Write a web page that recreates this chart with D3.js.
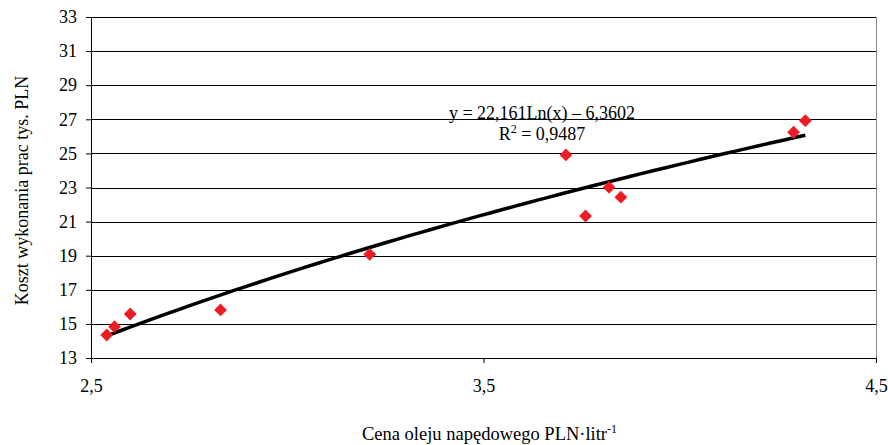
<!DOCTYPE html>
<html>
<head>
<meta charset="utf-8">
<script src="https://cdn.jsdelivr.net/npm/d3@7"></script>
<style>
  body { margin: 0; background: #fff; }
  text { font-family: "Liberation Serif", "Times New Roman", serif; fill: #000; }
</style>
</head>
<body>
<div id="chart"></div>
<script>
// diesel price (PLN/l) and cost of work (thousand PLN)
const priceX = [2.54, 2.56, 2.60, 2.83, 3.21, 3.71, 3.76, 3.82, 3.85, 4.29, 4.32];
const costY = [14.35, 14.84, 15.58, 15.82, 19.08, 24.91, 21.33, 23.01, 22.43, 26.24, 26.92];
const xTicks = [2.5, 3.5, 4.5];
const yTicks = [13, 15, 17, 19, 21, 23, 25, 27, 29, 31, 33];
// trend: y = a*ln(x) + b
const trendA = 22.161, trendB = -6.3602;

let width = 888, height = 445;
let margin = { top: 17, right: 12, bottom: 87, left: 91 };
let w = width - margin.left - margin.right, h = height - margin.top - margin.bottom;

let svg = d3.select("#chart").append("svg")
    .attr("width", width).attr("height", height);
let g = svg.append("g").attr("transform", `translate(${margin.left},${margin.top})`);

let x = d3.scaleLinear().domain([2.5, 4.5]).range([0, w]);
let y = d3.scaleLinear().domain([13, 33]).range([h, 0]);
let fmt = d => String(d).replace(".", ",");

// horizontal grid
g.selectAll(".grid").data(yTicks).enter().append("line")
    .attr("x1", 0).attr("x2", w)
    .attr("y1", d => Math.round(y(d)) + 0.5).attr("y2", d => Math.round(y(d)) + 0.5)
    .attr("stroke", "#000").attr("stroke-width", 1);
// right border
g.append("line").attr("x1", w + 0.5).attr("x2", w + 0.5).attr("y1", 0).attr("y2", h)
    .attr("stroke", "#888");

// axes
let yAxis = g.append("g").call(d3.axisLeft(y).tickValues(yTicks).tickSize(5).tickPadding(9).tickFormat(d => d));
let xAxis = g.append("g").attr("transform", `translate(0,${h})`)
    .call(d3.axisBottom(x).tickValues(xTicks).tickSize(5).tickPadding(16).tickFormat(fmt));
[yAxis, xAxis].forEach(a => {
    a.selectAll("text").style("font-family", "Liberation Serif").style("font-size", "18px");
    a.select(".domain").attr("stroke", "#000");
    a.selectAll(".tick line").attr("stroke", "#000");
});

// trend line
let xs = d3.range(0, 61).map(i => d3.min(priceX) + i * (d3.max(priceX) - d3.min(priceX)) / 60);
g.append("path")
    .datum(xs)
    .attr("fill", "none").attr("stroke", "#000").attr("stroke-width", 3.5)
    .attr("d", d3.line().x(d => x(d)).y(d => y(trendA * Math.log(d) + trendB)));

// points
let diamond = d3.symbol().type(d3.symbolSquare).size(82);
g.selectAll(".pt").data(priceX).enter().append("path")
    .attr("d", diamond)
    .attr("transform", (d, i) => `translate(${x(d)},${y(costY[i])}) rotate(45)`)
    .attr("fill", "#ec1c24");

// equation
g.append("text").attr("x", 451).attr("y", 102).attr("text-anchor", "middle")
    .style("font-size", "18px").text("y = 22,161Ln(x) – 6,3602");
let r2 = g.append("text").attr("x", 451).attr("y", 123).attr("text-anchor", "middle")
    .style("font-size", "18px");
r2.append("tspan").text("R");
r2.append("tspan").attr("dy", -7).style("font-size", "12px").text("2");
r2.append("tspan").attr("dy", 7).text(" = 0,9487");

// axis titles
svg.append("text").attr("transform", `translate(28,${margin.top + h / 2 + 3}) rotate(-90)`)
    .attr("text-anchor", "middle").style("font-size", "18px")
    .text("Koszt wykonania prac tys. PLN");
let xt = svg.append("text").attr("x", margin.left + w / 2 + 6).attr("y", 440)
    .attr("text-anchor", "middle").style("font-size", "18.5px");
xt.append("tspan").text("Cena oleju napędowego PLN·litr");
xt.append("tspan").attr("dy", -7).style("font-size", "12px").text("-1");
</script>
</body>
</html>
